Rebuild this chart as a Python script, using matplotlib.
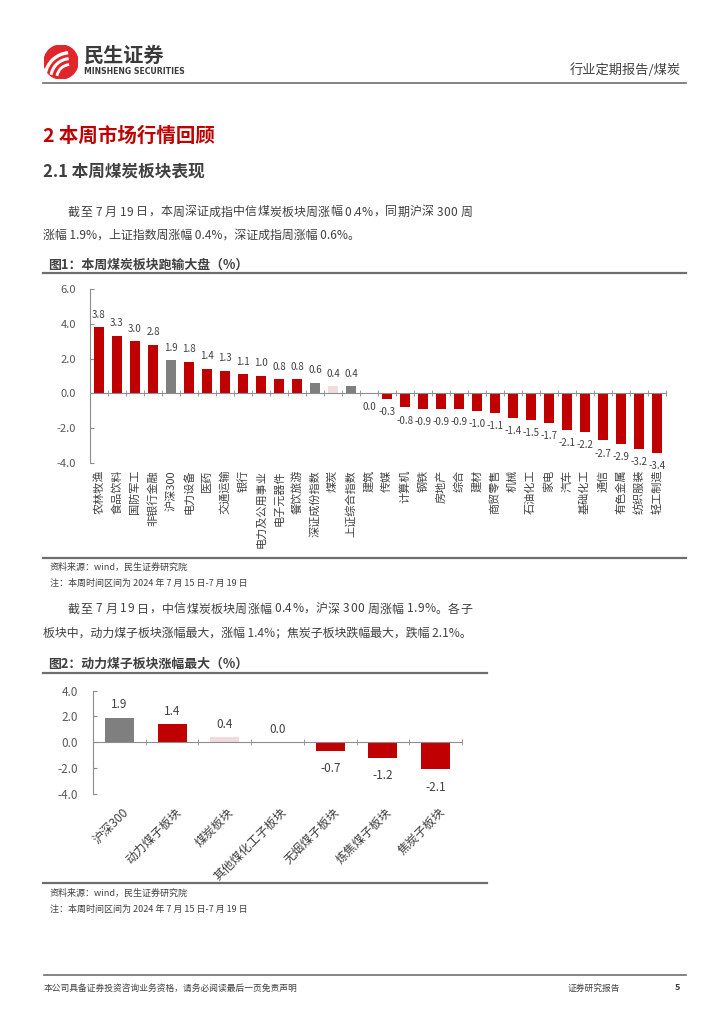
import numpy as np
import matplotlib
matplotlib.use("Agg")
import matplotlib.pyplot as plt
from matplotlib.patches import Circle, Arc

plt.rcParams['font.family'] = ['Noto Sans CJK SC', 'DejaVu Sans']

# ------------------------------
# Data
# ------------------------------
sectors = ['农林牧渔', '食品饮料', '国防军工', '非银行金融', '沪深300', '电力设备', '医药',
           '交通运输', '银行', '电力及公用事业', '电子元器件', '餐饮旅游', '深证成份指数',
           '煤炭', '上证综合指数', '建筑', '传媒', '计算机', '钢铁', '房地产', '综合', '建材',
           '商贸零售', '机械', '石油化工', '家电', '汽车', '基础化工', '通信', '有色金属',
           '纺织服装', '轻工制造']
sector_chg = [3.8, 3.3, 3.0, 2.8, 1.9, 1.8, 1.4, 1.3, 1.1, 1.0, 0.8, 0.8, 0.6,
              0.4, 0.4, 0.0, -0.3, -0.8, -0.9, -0.9, -0.9, -1.0, -1.1, -1.4, -1.5,
              -1.7, -2.1, -2.2, -2.7, -2.9, -3.2, -3.4]
index_names = ['沪深300', '深证成份指数', '上证综合指数']

subsectors = ['沪深300', '动力煤子板块', '煤炭板块', '其他煤化工子板块', '无烟煤子板块',
              '炼焦煤子板块', '焦炭子板块']
sub_chg = [1.9, 1.4, 0.4, 0.0, -0.7, -1.2, -2.1]

RED = '#C00000'
GREY = '#7F7F7F'
PINK = '#F2DCDB'
TXT = '#404040'
LINE = '#6E6E6E'
BODY = 8.6

W, H = 724, 1024
fig = plt.figure(figsize=(W / 100, H / 100), dpi=100)
renderer = fig.canvas.get_renderer()


def fx(x):
    return x / W


def fy(y):
    return 1 - y / H


def hline(y, x0, x1, lw=1.6, color=LINE):
    fig.add_artist(plt.Line2D([fx(x0), fx(x1)], [fy(y), fy(y)], color=color, lw=lw))


def ptext(x, y, s, **kw):
    kw.setdefault('color', TXT)
    kw.setdefault('va', 'center')
    return fig.text(fx(x), fy(y), s, **kw)


def text_width(s, size):
    t = fig.text(0, 0, s + '|', fontsize=size)
    w = t.get_window_extent(renderer).width
    t.remove()
    return w


def justified(x0, x1, y, s, size=BODY):
    # spread characters evenly between x0 and x1 (justified line)
    bar_w = text_width('', size)
    prefix = [text_width(s[:k], size) - bar_w for k in range(len(s) + 1)]
    extra = (x1 - x0 - prefix[-1]) / (len(s) - 1)
    for k, ch in enumerate(s):
        if ch == ' ':
            continue
        ptext(x0 + prefix[k] + k * extra, y, ch, fontsize=size)


# ------------------------------
# Header
# ------------------------------
logo = fig.add_axes([fx(44), fy(79), fx(34), 34 / H])
logo.set_xlim(-1, 1)
logo.set_ylim(-1, 1)
logo.set_aspect('equal')
logo.axis('off')
logo.add_patch(Circle((0, 0), 1, color='#E0262B'))
for r, lw in [(1.5, 2.4), (1.15, 2.2), (0.8, 2.0)]:
    logo.add_patch(Arc((0.55, -0.95), 2 * r, 2 * r, angle=0, theta1=95, theta2=170,
                       color='white', lw=lw))

ptext(84, 55, '民生证券', fontsize=14.5, fontweight='bold', color='#3A3A3A')
ptext(84, 71, 'MINSHENG SECURITIES', fontsize=5.6, fontweight='bold', color='#3A3A3A',
      family='DejaVu Sans')
ptext(681, 70, '行业定期报告/煤炭', fontsize=9.5, ha='right')
hline(83, 43, 686, lw=1.2)

# ------------------------------
# Section titles & text
# ------------------------------
ptext(43, 136, '2 本周市场行情回顾', fontsize=14, fontweight='bold', color=RED)
ptext(43, 171, '2.1 本周煤炭板块表现', fontsize=12, fontweight='bold')
justified(68, 472, 212, '截至 7 月 19 日，本周深证成指中信煤炭板块周涨幅 0.4%，同期沪深 300 周')
ptext(43, 235, '涨幅 1.9%，上证指数周涨幅 0.4%，深证成指周涨幅 0.6%。', fontsize=BODY)

ptext(48, 265, '图1：本周煤炭板块跑输大盘（%）', fontsize=9.3, fontweight='bold')
hline(273, 43, 686)

# ------------------------------
# Chart 1
# ------------------------------
ax1 = fig.add_axes([fx(90), fy(463), fx(666 - 90), 174 / H])
x1 = np.arange(len(sectors))
colors1 = []
for name in sectors:
    if name in index_names:
        colors1.append(GREY)
    elif name == '煤炭':
        colors1.append(PINK)
    else:
        colors1.append(RED)
ax1.bar(x1, sector_chg, width=0.56, color=colors1, zorder=2)
ax1.set_xlim(-0.5, len(sectors) - 0.5)
ax1.set_ylim(-4, 6)
ax1.set_yticks([-4, -2, 0, 2, 4, 6])
ax1.set_yticklabels([f'{v:.1f}' for v in [-4, -2, 0, 2, 4, 6]], fontsize=8, color='#595959')
ax1.set_xticks([])
ax1.set_xticks(np.arange(-0.5, len(sectors)), minor=True)
ax1.tick_params(axis='x', which='minor', direction='inout', length=4, color='#8C8C8C')
ax1.tick_params(axis='y', direction='in', length=3, color='#8C8C8C', pad=10)
for s in ['top', 'right']:
    ax1.spines[s].set_visible(False)
ax1.spines['bottom'].set_position(('data', 0))
ax1.spines['bottom'].set_color('#8C8C8C')
ax1.spines['left'].set_color('#8C8C8C')
ax1.patch.set_alpha(0)

for i, v in enumerate(sector_chg):
    if v > 0:
        ax1.annotate(f'{v:.1f}', (i, v), xytext=(0, 5.5), textcoords='offset points',
                     ha='center', va='bottom', fontsize=7, color=TXT)
    else:
        ax1.annotate(f'{v:.1f}', (i, v), xytext=(0, -6), textcoords='offset points',
                     ha='center', va='top', fontsize=7, color=TXT)
    ax1.text(i, -4.4, sectors[i], rotation=90, ha='center', va='top', fontsize=8,
             color=TXT)

hline(558, 43, 686)
ptext(50, 567, '资料来源：wind，民生证券研究院', fontsize=6.5)
ptext(50, 583, '注：本周时间区间为 2024 年 7 月 15 日-7 月 19 日', fontsize=6.5)

justified(68, 472, 609, '截至 7 月 19 日，中信煤炭板块周涨幅 0.4%，沪深 300 周涨幅 1.9%。各子')
ptext(43, 633, '板块中，动力煤子板块涨幅最大，涨幅 1.4%；焦炭子板块跌幅最大，跌幅 2.1%。',
      fontsize=BODY)

ptext(48, 664, '图2：动力煤子板块涨幅最大（%）', fontsize=9.3, fontweight='bold')
hline(673, 43, 487)

# ------------------------------
# Chart 2
# ------------------------------
ax2 = fig.add_axes([fx(93), fy(794), fx(462 - 93), (794 - 690.5) / H])
x2 = np.arange(len(subsectors))
colors2 = [GREY, RED, PINK, RED, RED, RED, RED]
ax2.bar(x2, sub_chg, width=0.55, color=colors2, zorder=2)
ax2.set_xlim(-0.5, len(subsectors) - 0.5)
ax2.set_ylim(-4, 4)
ax2.set_yticks([-4, -2, 0, 2, 4])
ax2.set_yticklabels([f'{v:.1f}' for v in [-4, -2, 0, 2, 4]], fontsize=8.5, color='#595959')
ax2.set_xticks([])
ax2.set_xticks(np.arange(-0.5, len(subsectors)), minor=True)
ax2.tick_params(axis='x', which='minor', direction='inout', length=5, color='#8C8C8C')
ax2.tick_params(axis='y', direction='in', length=3, color='#8C8C8C', pad=11)
for s in ['top', 'right']:
    ax2.spines[s].set_visible(False)
ax2.spines['bottom'].set_position(('data', 0))
ax2.spines['bottom'].set_color('#8C8C8C')
ax2.spines['left'].set_color('#8C8C8C')
ax2.patch.set_alpha(0)

for i, v in enumerate(sub_chg):
    if v >= 0:
        ax2.annotate(f'{v:.1f}', (i, v), xytext=(0, 4.5), textcoords='offset points',
                     ha='center', va='bottom', fontsize=8.5, color=TXT)
    else:
        ax2.annotate(f'{v:.1f}', (i, v), xytext=(0, -8), textcoords='offset points',
                     ha='center', va='top', fontsize=8.5, color=TXT)
    ax2.text(i + 0.05, -4.9, subsectors[i], rotation=45, ha='right', va='top',
             rotation_mode='anchor', fontsize=8.7, color=TXT)

hline(883, 43, 487)
ptext(50, 893, '资料来源：wind，民生证券研究院', fontsize=6.5)
ptext(50, 909, '注：本周时间区间为 2024 年 7 月 15 日-7 月 19 日', fontsize=6.5)

# ------------------------------
# Footer
# ------------------------------
hline(975, 44, 686, lw=1.2)
ptext(44, 988, '本公司具备证券投资咨询业务资格，请务必阅读最后一页免责声明', fontsize=6.3)
ptext(568, 988, '证券研究报告', fontsize=6.3)
ptext(680, 988, '5', fontsize=6.5, fontweight='bold', ha='right')

fig.savefig('out.png', dpi=100)
